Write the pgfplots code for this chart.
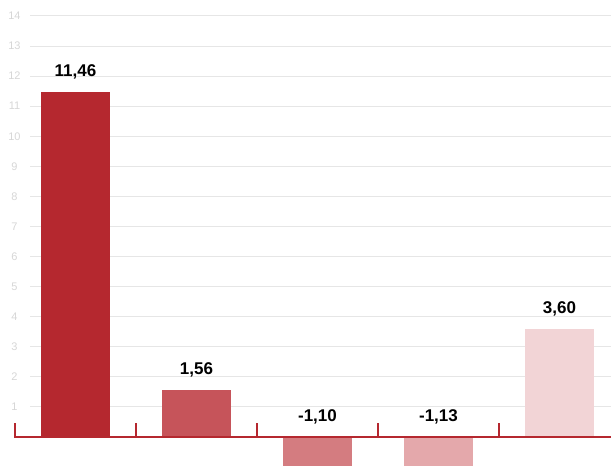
\documentclass[border=0pt]{standalone}
\usepackage{pgfplots}
\usepackage{pgfplotstable}
\usepackage{fontspec}
\setmainfont{Liberation Sans}
\pgfplotsset{compat=1.18}

\definecolor{barA}{HTML}{B5282F}
\definecolor{barB}{HTML}{C6545A}
\definecolor{barC}{HTML}{D47C80}
\definecolor{barD}{HTML}{E4A8AB}
\definecolor{barE}{HTML}{F2D4D6}
\definecolor{gridc}{HTML}{E6E6E6}
\definecolor{tickc}{HTML}{D6D6D6}

% x = category index, y = value, ylab = where the label sits
\pgfplotstableread{
x y ylab label
0 11.46 11.46 11,46
1 1.56 1.56 1,56
2 -1.10 0 -1,10
3 -1.13 0 -1,13
4 3.60 3.60 3,60
}\datatable

\begin{document}
\begin{tikzpicture}
\begin{axis}[
    at={(30pt,0pt)}, anchor=south west,
    scale only axis,
    width=581pt, height=466pt,
    xmin=-0.376, xmax=4.426,
    ymin=-0.962, ymax=14.53,
    clip=false,
    axis line style={draw=none},
    major tick length=0pt,
    xtick=\empty,
    ytick={1,2,...,14},
    ymajorgrids=true,
    grid style={color=gridc, line width=1pt},
    /pgf/number format/assume math mode=true,
    yticklabel style={anchor=center, xshift=-15.5pt, text=tickc,
        font=\fontsize{11}{11}\selectfont},
]
\addplot[ybar, bar width=69pt, bar shift=0pt, fill=barA, draw=none] coordinates {(0,11.46)};
\addplot[ybar, bar width=69pt, bar shift=0pt, fill=barB, draw=none] coordinates {(1,1.56)};
\addplot[ybar, bar width=69pt, bar shift=0pt, fill=barC, draw=none] coordinates {(2,-1.10)};
\addplot[ybar, bar width=69pt, bar shift=0pt, fill=barD, draw=none] coordinates {(3,-1.13)};
\addplot[ybar, bar width=69pt, bar shift=0pt, fill=barE, draw=none] coordinates {(4,3.60)};

% zero line and separators
\addplot[barA, line width=2pt] coordinates {(-0.508,0) (4.426,0)};
\addplot[ycomb, barA, line width=1.6pt, mark=none] coordinates {
    (-0.5,0.465) (0.5,0.465) (1.5,0.465) (2.5,0.465) (3.5,0.465)};

% value labels
\addplot[draw=none, mark=none, nodes near coords, point meta=explicit symbolic,
    nodes near coords style={anchor=base, yshift=15.5pt, text=black,
        font=\bfseries\fontsize{17}{17}\selectfont}]
    table[x=x, y=ylab, meta=label] {\datatable};
\end{axis}
\pgfresetboundingbox
\path[use as bounding box] (0,0) rectangle (611pt,466pt);
\end{tikzpicture}
\end{document}
